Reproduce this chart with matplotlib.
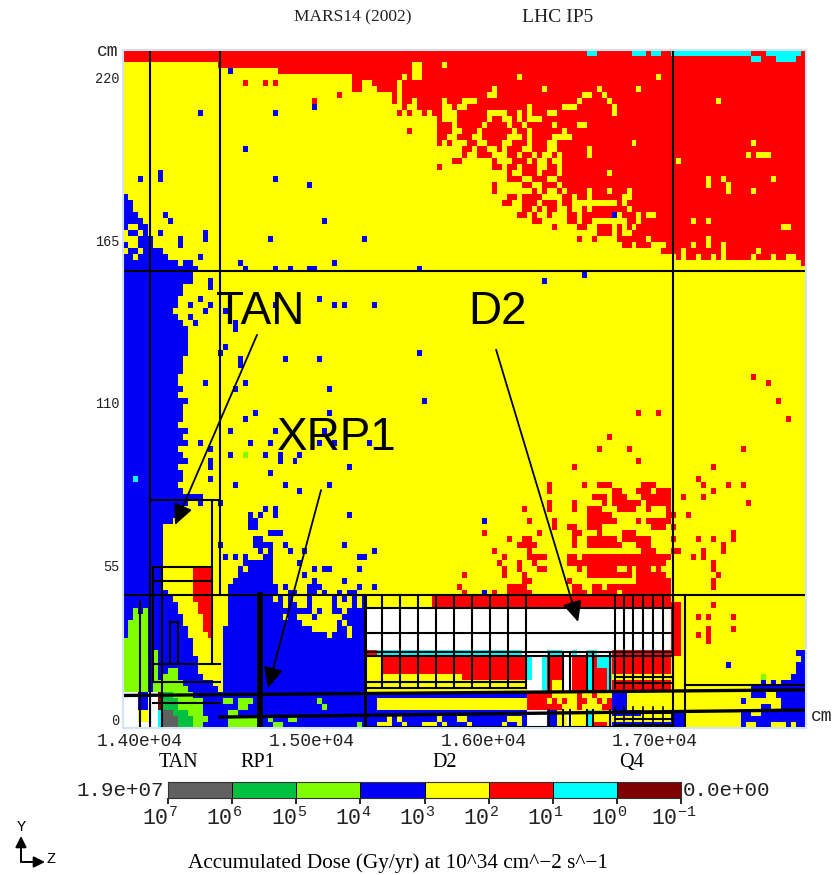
import numpy as np
import matplotlib
matplotlib.use("Agg")
import matplotlib.pyplot as plt
from matplotlib.colors import ListedColormap, BoundaryNorm

plt.rcParams['mathtext.fontset'] = 'custom'
plt.rcParams['mathtext.rm'] = 'Liberation Mono'

# ---------- dose classes ----------
W, GY, DG, LG, B, Y, R, C, M = range(9)
class_colors = ['#ffffff', '#606060', '#00c040', '#80ff00', '#0000f5', '#ffff00', '#ff0000', '#00ffff', '#800000']
key = {'.': Y, 'R': R, 'B': B, 'C': C, 'W': W, 'L': LG}
decades = [7, 6, 5, 4, 3, 2, 1, 0, -1]
bar_classes = [GY, DG, LG, B, Y, R, C, M]
N_COLS, N_ROWS = 137, 113

# lowest row of solid red, per column, upper left part (columns 0..54)
red_floor_left = [2]*19 + [3]*12 + [4]*15 + [7, 7, 5, 5, 6, 7, 7, 7, 9]
# same, columns 109..136
red_floor_right = [34, 34, 35, 34, 35, 35, 34, 35, 35, 34, 35, 33, 35, 35, 35, 35, 35, 34, 35, 35, 35, 34, 35, 35, 34, 34, 35, 36]

# dose cells for the fingered boundary (columns 55.., rows 0..)
finger_rows = [
 "RRRRRRRRRRRRRRRRRRRRRRRRRRRRRRRRRRRRRRCCRRRRRRRCCCRCCRRR",
 "RRRRRRRRRRRRRRRRRRRRRRRRRRRRRRRRRRRRRRRRRRRRRRRRRRRRRRRR",
 "RRR..RRRR.RRRRRRRRRRRRRRRRRRRRRRRRRRRRRRRRRRRRRRRRRRRRRR",
 "RRR..RRRRRRRRRRRRRRRRRRRRRRRRRRRRRRRRRRRRRRRRRRRRRRRRRRR",
 "R.R..RRRRRRRRRRRRRRRRRRR.RRRRRRRRRRRRRRRRRRRRRRRRRRR.RRR",
 ".RRRRRRRRRRRRRRRRRRRRRRRRRRRRRRRRRRRRRRRRRRRRRRRRRRRRRRR",
 ".RRRRRRRRRRRRRRRRRR.RRRRRRRRR.RRRRRRRRRR.RRRRRRR.RRRRRRR",
 ".RRRRRRRRRRRRRRRRR..RRRRRRRRRRRRRRRRR..RR.RRRRRRRRRRRRRR",
 ".RR.RRRRR.RRR...RRRRRRRRRRRRRRRRRRRR.RRRRR.RRRRRRRRRRRRR",
 ".R..RRRRR..R..RRRRRRRRRRRR.RRRRRR...RRRRRRR.RRRRRRRRRRRR",
 "R.R..R.RR...RRRRRR....RR.R.RRR..RRRRRRRRRRR.RRRRRRRRRRRR",
 "........R...RRRRRR.RR..R.R...RRRRRRRRRRRRRRRRRRRRRRRRRRR",
 "........RRR.RRRRR.RRRR.RR.RRRRR.RRRR..RRRRRRRRRRRRRRRRRR",
 "..R.....RRR..RRR.RRRRRR.RR.RRRRRR.RRRRRRRRRRRRRRRRRRRRRR",
 "........RR..RRR..RRRRR...R.RRRR....RRRRRRRRRRRRRRRRRRRRR",
 "........R.R...RR..RRR..RRR.RRR..RRRRRRRRRRRRRRR.RRRRRRRR",
 ".............RR.RR..R.RRR..RRR..RRRRRR.RRRRRRRRRRRRRRRRR",
 ".............R..RRR...RR.RR.R..R.RRRRR.RRRRRRRRRRRRRRRRR",
 "...........RR......R...RRR.R..R..RRRRRRRRRRRRRRRRRRRRRRR",
 "........R..........RR.RR.RRR..RR.RRRRRRRRRRRRRRRRRRRRRRR",
 "......................R..RRR.RRR.RRRRRRRRR.RRRRRRRRRRRRR",
 "......................RRR..RRR..RRRRRRRRRRRRRRRRRRRRRRRR",
 "...................R.....RR..RRR.RRRRRRRRRRRRRRRRRRRRRRR",
 "...................R.......R.R..R.RRRR.RRR.RRR.RRRRRRRRR",
 "......................RR.RRRR....RR.RR.RRRRRR..RRRRRRRRR",
 ".....................RR..RRR.RRR.RR.........R.RRRRRRRRRR",
 ".........................RR.R.RR..R..R.RRRRRRR.RRRRRRRRR",
 "........................RR.R..R...RR.RRRRRRR.RRR.R..RRRR",
 "...........................RR.....RR.RR.......RR.RRRRRRR",
 "...............................R....RR..RRR.R.R.RRRRRRRR",
 "........................................RRR.R..RRRRRRRRR",
 "....................................R..R....RRRRRR.RRR..",
 ".............................................RR.RRR...R.",
 ".....................................................R..",
]
red_drips = [(24, 5), (28, 5), (30, 5), (43, 7), (38, 8)]
yellow_holes_red = [(119, 8), (126, 15), (125, 17), (127, 17), (128, 17), (129, 17), (111, 18), (117, 21), (117, 22), (120, 21), (121, 22), (121, 23),
                    (126, 23), (130, 21), (114, 28), (117, 28), (132, 29), (133, 29), (112, 33), (114, 32), (117, 31), (117, 32), (120, 33), (120, 32), (127, 33)]
cyan_top = [(110, 126, 0), (126, 128, 1), (129, 136, 0), (131, 135, 1)]

# mid-field red cells, row -> column spans (columns offset 67)
mid_red = {
 72: [(18, 19), (25, 26), (28, 31), (37, 40)], 73: [(18, 19), (31, 33), (36, 39), (40, 43)],
 74: [(27, 30), (31, 34), (37, 43)], 75: [(18, 19), (23, 24), (29, 30), (31, 37), (38, 43)],
 76: [(13, 14), (18, 19), (23, 24), (26, 29), (32, 36), (38, 39), (42, 43)], 77: [(26, 31), (42, 43)],
 78: [(14, 15), (19, 20), (26, 32), (36, 37), (38, 43)], 79: [(19, 20), (22, 24), (26, 29), (39, 42)],
 80: [(5, 6), (16, 17), (23, 25), (28, 29), (33, 36)], 81: [(10, 11), (13, 15), (23, 24), (26, 32), (33, 39)],
 82: [(12, 16), (23, 24), (26, 33), (36, 39)], 83: [(7, 8), (14, 15), (37, 40)],
 84: [(9, 10), (14, 18), (22, 24), (25, 43)], 85: [(8, 9), (12, 13), (15, 16), (22, 25), (25, 42)],
 86: [(9, 10), (12, 13), (16, 18), (24, 25), (26, 32), (34, 35), (36, 39), (40, 41)],
 87: [(1, 2), (9, 10), (13, 14), (26, 35), (36, 42)], 88: [(13, 15), (22, 23), (36, 43)],
 89: [(0, 1), (10, 14), (23, 25), (27, 29), (30, 43)], 90: [(1, 2), (7, 8), (10, 15), (23, 26), (27, 32), (33, 43)],
}
red_dots = [(112, 74), (110, 77), (113, 77), (116, 72), (116, 74), (118, 73), (121, 72), (124, 72), (125, 75), (110, 79), (110, 81), (115, 81), (118, 81),
            (122, 80), (122, 81), (120, 82), (120, 83), (116, 83), (111, 83), (110, 83), (114, 84), (116, 84), (118, 85), (118, 86), (119, 87), (118, 88), (118, 89),
            (126, 54), (129, 55), (131, 58), (133, 61), (124, 66), (118, 69), (115, 71), (103, 60), (97, 64), (95, 66), (103, 68), (90, 69),
            (118, 92), (115, 94), (117, 94), (122, 94), (117, 96), (117, 97), (117, 98), (122, 96), (115, 97), (107, 60), (101, 66)]

# blue at the left edge: row -> column spans
left_blue = {
 24: [(0, 1)], 25: [(0, 2)], 26: [(0, 2)], 27: [(0, 3)], 28: [(0, 1), (1, 4)], 29: [(0, 1), (3, 5)], 30: [(1, 2), (4, 5)],
 31: [(3, 4), (4, 6)], 32: [(0, 1), (3, 4), (4, 6)], 33: [(1, 3), (4, 6), (6, 8)], 34: [(0, 2), (3, 9)], 35: [(0, 11), (12, 13), (13, 14)], 36: [(0, 15)],
}
# right edge of the blue wall, rows 37..75
blue_wall_edge = [14, 13, 12, 12, 11, 11, 10, 11, 12, 13, 13, 13, 13, 13, 12, 12, 12, 11, 11, 12, 11, 13, 12, 12, 12, 11, 13, 12, 13, 11, 12, 13, 11, 12, 12, 11, 12, 16, 13]
# left edge of the yellow wedge in the absorber, rows 76..102
wedge_edge = [11, 11, 10, 8, 8, 8, 8, 8, 8, 8, 8, 8, 8, 8, 9, 10, 11, 11, 12, 12, 13, 13, 14, 14, 14, 15, 15]
# red wedge, left edge, rows 86..98 (right edge is column 18)
red_wedge_edge = [14, 14, 14, 14, 14, 14, 15, 15, 16, 16, 16, 17, 18]
# rows 103..106
mound_rows = {103: (9, 11, 15), 104: (8, 11, 16), 105: (8, 12, 18), 106: (8, 13, 19)}
# rows 107..112 of the absorber core: class and end column (start col 8)
core_rows = {107: [(DG, 10), (LG, 14), (B, 20)], 108: [(DG, 11), (LG, 16), (B, 20)], 109: [(DG, 11), (LG, 16), (B, 20)],
             110: [(GY, 10), (DG, 13), (LG, 16), (B, 20)], 111: [(GY, 11), (DG, 14), (LG, 17), (B, 20)], 112: [(GY, 11), (DG, 14), (LG, 16), (B, 20)]}
# top row of the green region near the axis, columns 0..4
green_tops = [98, 95, 93, 94, 93]
# blue hump near z = 1.47e4: column -> top row
hump_tops = {21: 89, 22: 88, 23: 86, 24: 84, 25: 85, 26: 81, 27: 81, 28: 82, 29: 82}
hump_extra = [(25, 78), (26, 78), (25, 79), (26, 79), (29, 80), (30, 80), (31, 80), (27, 77), (26, 82), (30, 89), (30, 90), (32, 89), (33, 90), (34, 90),
              (37, 89), (38, 89), (37, 90), (38, 90), (39, 89), (40, 90), (43, 90), (45, 90)]
hump_holes = [(26, 83), (27, 84), (26, 84), (28, 83), (24, 86), (22, 84)]
# yellow openings in the blue block below y = 45 cm: row -> column spans
block_yellow = {
 91: [(20, 21), (30, 31), (32, 33), (34, 37), (38, 42), (43, 44), (45, 46), (47, 48)], 92: [(20, 21), (32, 33), (35, 37), (38, 42), (43, 46), (47, 48)],
 93: [(20, 21), (38, 39), (40, 42), (44, 45)], 94: [(20, 21), (32, 33), (35, 37), (37, 38), (39, 44)], 95: [(20, 21), (36, 37), (37, 43), (44, 45)],
 96: [(38, 43), (45, 46)], 97: [(41, 42), (45, 46)],
}
block_green = [(20, 108), (21, 108), (23, 108), (24, 108), (25, 108), (23, 109), (24, 109), (21, 110), (22, 110), (21, 111), (22, 111), (23, 111), (24, 111), (25, 111), (26, 111),
               (21, 112), (22, 112), (23, 112), (24, 112), (25, 112), (26, 112), (29, 111), (30, 112), (31, 112), (33, 111), (34, 111), (39, 108), (40, 109), (47, 112)]

d2_mix_rows = {107: "RRRRR.....R..R....R.", 108: "RRRR.R.R..RR..R.R.RR", 109: "RRRRRRR...R....RR.RR"}
d2_yellow_111 = [53, 55, 63, 67, 68, 77, 78, 79]
d2_yellow_112 = [51, 52, 53, 56, 60, 61, 62, 64, 69, 76, 79]
right_blue = {
 100: [(135, 137)], 101: [(136, 137)], 102: [(135, 137)], 103: [(135, 137)], 104: [(134, 137)], 105: [(128, 129), (130, 131), (132, 137)],
 106: [(126, 137)], 107: [(126, 129), (131, 137)], 108: [(124, 125), (132, 137)], 109: [(128, 130), (132, 137)],
 110: [(124, 126), (128, 137)], 111: [(124, 127), (127, 137)], 112: [(124, 125), (127, 130), (133, 134), (135, 137)],
}
blue_dots = [(15, 10), (21, 3), (30, 10), (38, 9), (24, 16), (3, 21), (7, 20), (7, 21), (30, 21), (37, 22), (8, 27), (9, 28), (40, 28), (98, 27), (2, 30), (7, 30), (16, 30), (16, 31),
             (11, 31), (11, 32), (29, 31), (48, 31), (15, 34), (23, 35), (24, 36), (30, 36), (33, 36), (37, 36), (38, 36), (42, 35), (59, 36), (84, 38), (92, 37), (13, 38), (17, 38),
             (17, 39), (15, 41), (17, 42), (13, 42), (16, 43), (13, 44), (14, 45), (20, 43), (22, 45), (22, 46), (20, 49), (19, 50), (32, 51), (39, 51), (23, 51), (23, 52), (16, 55), (24, 55),
             (22, 56), (41, 56), (39, 41), (42, 42), (44, 42), (30, 42), (26, 60), (24, 61), (41, 60), (21, 63), (40, 63), (30, 63), (25, 65), (29, 65), (21, 67), (28, 67), (31, 67), (31, 68),
             (34, 68), (39, 65), (42, 65), (35, 67), (45, 69), (29, 70), (22, 72), (32, 72), (35, 73), (41, 72), (15, 65), (17, 66), (17, 68), (17, 69), (17, 71), (45, 77), (44, 82), (50, 83),
             (47, 84), (48, 84), (47, 86), (38, 86), (40, 86), (41, 86), (44, 88), (47, 89), (50, 89), (46, 90), (38, 88), (36, 87), (33, 83), (36, 83), (32, 82), (25, 77), (28, 76), (30, 77),
             (30, 76), (35, 85), (19, 82), (15, 75), (19, 75), (20, 84), (22, 84), (121, 102), (59, 50), (50, 42), (60, 58), (49, 65), (72, 78), (72, 90)]
green_dots = [(24, 67), (128, 104)]
cyan_dots = [(2, 71)]

# ---------- structure outlines (z in cm, y in cm) ----------
long_vertical_z = [14058, 14466, 17106]
long_vertical_span = [(0, 229.4), (45, 229.4), (0, 229.4)]
d2_vertical_z = [15311, 15410, 15515, 15620, 15725, 15830, 15935, 16040, 16145, 16250]
q4_vertical_z = [16768, 16821, 16873, 16932, 16990, 17048, 17106]
inner_vertical_z = [16384, 16465, 16506, 16605, 16640, 16739]
absorber_verticals = [(14000, 0, 43), (14058, 0, 77), (14076, 16, 54.5), (14128, 0, 54.5), (14420, 21.7, 77), (14175, 22, 36), (14222, 22, 36), (17176, 0, 45)]
horizontal_lines = [(13901, 17881, 154.7), (13901, 17881, 45), (14058, 14466, 77.2), (14076, 14420, 54.5), (14076, 14420, 49.7), (14076, 14466, 21.7),
                    (14175, 14222, 36), (15311, 17106, 40.6), (15311, 17106, 32.1), (15311, 17106, 25.7), (15311, 17106, 24.4), (15311, 16250, 15.6), (15311, 16250, 13.5),
                    (16768, 17106, 17.3), (16768, 17106, 15.2), (17176, 17881, 14.6), (14076, 14466, 8.5), (14076, 14466, 15.6), (16768, 17106, 5), (16768, 17106, 3), (16768, 17106, 1)]
beam_lines = [(13901, 11.0, 17881, 12.9), (14466, 3.7, 17881, 6.1)]
thick_vertical_z = 14699
frame_bottom = [(15311, 17106, 0.5)]

tick_z = [14000, 15000, 16000, 17000]
tick_z_labels = ['1.40e+04', '1.50e+04', '1.60e+04', '1.70e+04']
tick_y = [0, 55, 110, 165, 220]
elements = [('TAN', 14222), ('RP1', 14688), ('D2', 15778), ('Q4', 16867)]
big_labels = [('TAN', 14699, 140.8), ('D2', 16081, 140.8), ('XRP1', 15148, 98.0)]
arrows = [((14682, 133), (14204, 68.7)), ((16075, 128), (16553, 35.9)), ((15055, 80.5), (14746, 13.5))]

# ---------- build dose grid ----------
grid = np.full((N_ROWS, N_COLS), Y)
for c, f in enumerate(red_floor_left):
    grid[:f, c] = R
for i, row in enumerate(finger_rows):
    for k, ch in enumerate(row[:54]):
        grid[i, 55 + k] = key[ch]
for k, f in enumerate(red_floor_right):
    grid[:f, 109 + k] = R
for c, r in red_drips:
    grid[r, c] = R
for c, r in yellow_holes_red:
    grid[r, c] = Y
for c0, c1, r in cyan_top:
    grid[r, c0:c1] = C
for r, spans in mid_red.items():
    for a, b in spans:
        grid[r, 67 + a:67 + b] = R
for c, r in red_dots:
    grid[r, c] = R
for r, spans in left_blue.items():
    for a, b in spans:
        grid[r, a:b] = B
for i, e in enumerate(blue_wall_edge):
    grid[37 + i, :e] = B
grid[72, 11:13] = Y
for i, e in enumerate(wedge_edge):
    grid[76 + i, :e] = B
for i, e in enumerate(red_wedge_edge):
    grid[86 + i, e:18] = R
for r, (g0, g1, e) in mound_rows.items():
    grid[r, :e] = B
    grid[r, g0:g1] = LG
for r in range(107, 113):
    grid[r, :8] = W
for r, segs in core_rows.items():
    c = 8
    for code, end in segs:
        grid[r, c:end] = code
        c = end
for c, top in enumerate(green_tops):
    grid[top:107, c] = LG
    grid[76:top, c] = B
grid[103:107, 5:8] = B
grid[100:107, 6] = LG
grid[105:107, 7] = LG
grid[107:110, 3:5] = B
grid[110:112, 3:5] = Y
grid[107:110, 7] = M
grid[110:113, 7] = C
for r in range(91, 113):
    grid[r, 20:49] = B
for c, top in hump_tops.items():
    grid[top:91, c] = B
for c, r in hump_extra:
    grid[r, c] = B
for c, r in hump_holes:
    grid[r, c] = Y
for r, spans in block_yellow.items():
    for a, b in spans:
        grid[r, a:b] = Y
for c, r in block_green:
    grid[r, c] = LG
# D2 block
grid[91:93, 49:62] = Y
grid[91:93, 62:110] = R
grid[93:100, 49:110] = W
grid[100, 49:110] = W
grid[100, 49:51] = R
grid[100, 51:80] = C
grid[100, 85:88] = C
grid[100, 90:91] = C
grid[100, 93:95] = C
grid[100:101, 98:110] = R
grid[101:104, 49:52] = Y
grid[101:104, 52:81] = R
grid[104, 49:68] = Y
grid[104, 68:81] = R
grid[105:107, 49:81] = Y
grid[107, 49:81] = B
grid[108:110, 49:51] = B
grid[108:110, 51:81] = Y
grid[110:113, 49:81] = B
for c in d2_yellow_111:
    grid[111, c] = Y
for c in d2_yellow_112:
    grid[112, c] = Y
grid[101:107, 81:98] = W
grid[101:105, 81] = C
grid[101:107, 84] = C
grid[101:107, 85:88] = R
grid[105:107, 86:88] = Y
grid[101:107, 90:93] = R
grid[101:107, 93] = C
grid[101:107, 94:97] = R
grid[101:103, 95:97] = C
grid[101:107, 97] = C
grid[101:104, 98:110] = R
grid[104, 98:110] = Y
grid[105:107, 98:110] = R
for r, s in d2_mix_rows.items():
    for k, ch in enumerate(s):
        grid[r, 81 + k] = key[ch]
grid[107:110, 101:110] = Y
grid[107:110, 98:101] = B
grid[110:113, 81:85] = W
grid[110:113, 85:87] = B
grid[110:113, 87:88] = Y
grid[110:113, 89:90] = W
grid[110:113, 90:93] = Y
grid[110:113, 93] = C
grid[110:113, 94:98] = Y
grid[112, 94:97] = R
grid[110, 98:104] = B
grid[110, 104:110] = Y
grid[111, 98:110] = Y
grid[112, 98:110] = B
grid[92:101, 110:112] = R
grid[97:101, 112] = Y
grid[110:113, 110:113] = B
for r, spans in right_blue.items():
    for a, b in spans:
        grid[r, a:b] = B
for c, r in blue_dots:
    grid[r, c] = B
for c, r in green_dots:
    grid[r, c] = LG
for c, r in cyan_dots:
    grid[r, c] = C

# ---------- figure ----------
fig = plt.figure(figsize=(8.40, 8.75), dpi=100)
ax = fig.add_axes([123/840, 1 - 728/875, 683/840, 678/875])
cmap = ListedColormap(class_colors)
norm = BoundaryNorm(np.arange(-0.5, 9.5), 9)
z_edges = np.linspace(13901, 17881, N_COLS + 1)
y_edges = np.linspace(229.4, 0, N_ROWS + 1)
ax.pcolormesh(z_edges, y_edges, grid, cmap=cmap, norm=norm, shading='flat', antialiased=False, rasterized=True)
ax.set_xlim(13901, 17881)
ax.set_ylim(0, 229.4)

LW = 1.5
for z, (y0, y1) in zip(long_vertical_z, long_vertical_span):
    ax.plot([z, z], [y0, y1], color='k', lw=LW)
for z in d2_vertical_z:
    ax.plot([z, z], [13.5, 45], color='k', lw=LW)
for z in q4_vertical_z:
    ax.plot([z, z], [13.5, 45], color='k', lw=LW)
    ax.plot([z, z], [0, 7], color='k', lw=1.2)
for z in inner_vertical_z:
    ax.plot([z, z], [12.9, 25.7], color='k', lw=LW)
    ax.plot([z, z], [0, 6.1], color='k', lw=LW)
for z, y0, y1 in absorber_verticals:
    ax.plot([z, z], [y0, y1], color='k', lw=LW)
for z0, z1, y in horizontal_lines:
    ax.plot([z0, z1], [y, y], color='k', lw=LW)
for z0, y0, z1, y1 in beam_lines:
    ax.plot([z0, z1], [y0, y1], color='k', lw=2.4)
ax.plot([thick_vertical_z]*2, [0, 45], color='k', lw=4.2)
ax.plot([15311, 15311], [0, 45], color='k', lw=2.2)
for z0, z1, y in frame_bottom:
    ax.plot([z0, z1], [y, y], color='k', lw=1.5)

for s in ax.spines.values():
    s.set_color('#d4e4f2')
    s.set_linewidth(1.5)
ax.set_xticks(tick_z, tick_z_labels, family='Liberation Mono', fontsize=13, color='#222222')
ax.set_yticks(tick_y, [str(v) for v in tick_y], family='Liberation Mono', fontsize=9.8, color='#222222')
ax.get_yticklabels()[0].set_va('bottom')
ax.tick_params(length=0)
ax.tick_params(axis='x', pad=3.5)
ax.tick_params(axis='y', pad=2.5)

ax.text(-0.0075, 0.9985, 'cm', transform=ax.transAxes, family='Liberation Mono', fontsize=13, ha='right', va='center', color='#222222')
ax.text(1.007, 0.017, 'cm', transform=ax.transAxes, family='Liberation Mono', fontsize=13, ha='left', va='center', color='#222222')

for name, z in elements:
    ax.annotate(name, (z, 0), xytext=(0, -24.5), textcoords='offset points', family='Liberation Serif', fontsize=14.5, ha='center', va='center', annotation_clip=False)

for txt, z, y in big_labels:
    ax.text(z, y, txt, family='Liberation Sans', fontsize=33, ha='center', va='center', color='k')
for start, end in arrows:
    ax.annotate('', xy=end, xytext=start,
                arrowprops=dict(arrowstyle='-|>,head_length=0.9,head_width=0.42', color='k', lw=1.3, mutation_scale=14, shrinkA=0, shrinkB=0))

fig.text(353/840, 1 - 17/875, 'MARS14 (2002)', family='Liberation Serif', fontsize=12.5, ha='center', va='center', color='#222222')
fig.text(558/840, 1 - 17/875, 'LHC IP5', family='Liberation Serif', fontsize=14, ha='center', va='center', color='#222222')
fig.text(398/840, 1 - 863/875, 'Accumulated Dose (Gy/yr) at 10^34 cm^\u22122 s^\u22121', family='Liberation Serif', fontsize=15.3, ha='center', va='center')

# colour key
cax = fig.add_axes([168/840, 1 - 798/875, 513/840, 16/875])
cax.pcolormesh(decades, [0, 1], np.array([bar_classes]), cmap=cmap, norm=norm, shading='flat', edgecolors='k', linewidth=0.6)
cax.set_xlim(7, -1)
cax.set_yticks([])
cax.set_xticks(decades, [''] * len(decades))
cax.tick_params(axis='x', length=4, width=1.2, pad=3)
for d in decades:
    cax.annotate(rf'$\mathrm{{10^{{{d}}}}}$', (d, 0), xytext=(-5.5, -14), textcoords='offset points', fontsize=15.5, ha='center', va='center', color='#222222', annotation_clip=False)
for s in cax.spines.values():
    s.set_color('#333333')
cax.text(-0.008, 0.5, '1.9e+07', transform=cax.transAxes, family='Liberation Mono', fontsize=15, ha='right', va='center', color='#222222')
cax.text(1.004, 0.5, '0.0e+00', transform=cax.transAxes, family='Liberation Mono', fontsize=15, ha='left', va='center', color='#222222')

# axis triad
ann = dict(xycoords='figure fraction', textcoords='figure fraction',
           arrowprops=dict(arrowstyle='-|>,head_length=0.6,head_width=0.3', color='k', lw=1.4, mutation_scale=11, shrinkA=0, shrinkB=0))
fig.add_artist(matplotlib.text.Annotation('', xy=(21/840, 1 - 836/875), xytext=(21/840, 1 - 862/875), **ann))
fig.add_artist(matplotlib.text.Annotation('', xy=(45/840, 1 - 862/875), xytext=(21/840, 1 - 862/875), **ann))
fig.text(21/840, 1 - 827/875, 'Y', family='Liberation Mono', fontsize=11, ha='center', va='center')
fig.text(51/840, 1 - 859/875, 'Z', family='Liberation Mono', fontsize=11, ha='center', va='center')

fig.savefig('out.png', dpi=100)
